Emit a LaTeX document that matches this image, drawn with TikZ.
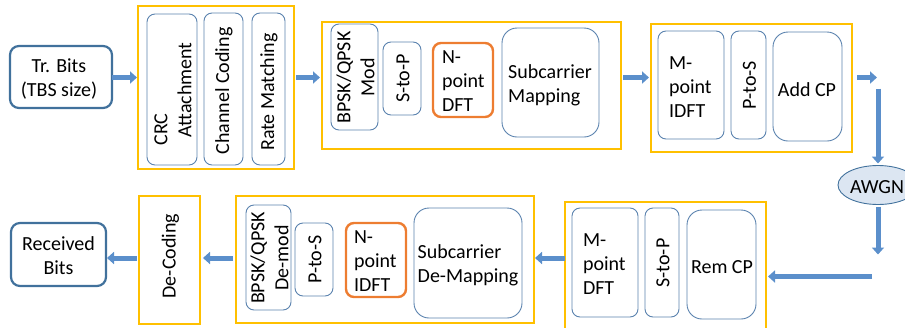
\documentclass[tikz,border=0pt]{standalone}
\usepackage{fontspec}
\setmainfont{Carlito}
\usetikzlibrary{arrows.meta,calc,shapes.geometric}
\definecolor{ybox}{HTML}{FFC000}
\definecolor{obox}{HTML}{ED7D31}
\definecolor{bbord}{HTML}{41719C}
\definecolor{ibord}{HTML}{5A82AE}
\definecolor{arrc}{HTML}{5B8FCB}
\definecolor{awgnf}{HTML}{DCE6F2}
\begin{document}
\begin{tikzpicture}[x=1pt,y=-1pt,
  every node/.style={inner sep=0pt,outer sep=0pt,font=\fontsize{20}{24}\selectfont},
  ybox/.style={draw=ybox,line width=2.6pt},
  ibox/.style={draw=ibord,line width=0.9pt,rounded corners=8pt},
  bigbox/.style={draw=ibord,line width=0.9pt,rounded corners=15pt},
  obox/.style={draw=obox,line width=2.4pt,rounded corners=8pt},
  endbox/.style={draw=bbord,line width=2.2pt,rounded corners=9pt},
  txt/.style={align=center},
  ltxt/.style={align=left},
  barrow/.style={draw=arrc,line width=5pt,-{Triangle[length=7pt 0 0,width=12pt 0 0]}}
]
\useasboundingbox (0,0) rectangle (905,327);
\clip (0,0) rectangle (905,327);
\coordinate (rowA) at (0,77.5);
\coordinate (rowB) at (0,258);

% ---------- top row ----------
\node[endbox,minimum width=102pt,minimum height=62pt] (tb) at (61,77) {};
\node[txt] (tbT) at (59,79) {Tr. Bits\\(TBS size)};

\node[ybox,minimum width=156pt,minimum height=163pt] (box1) at (216,87.5) {};
\node[ibox,minimum width=50pt,minimum height=151pt] (crc) at (172,89.5) {};
\node[ltxt,rotate=90] (crcT) at (173,94) {CRC\\\hspace*{0.4em}Attachment};
\node[ibox,minimum width=39pt,minimum height=152pt] (cc) at (223.5,89) {};
\node[txt,rotate=90] (ccT) at (224,91) {Channel Coding};
\node[ibox,minimum width=33pt,minimum height=152pt] (rm) at (268.5,89) {};
\node[txt,rotate=90] (rmT) at (269,92) {Rate Matching};

\node[ybox,minimum width=299pt,minimum height=127pt] (box2) at (471.5,85.5) {};
\node[ibox,minimum width=47pt,minimum height=106pt] (mod) at (354.5,77) {};
\node[txt,rotate=90] (modT) at (355.5,77.5) {BPSK/QPSK\\Mod};
\node[ibox,minimum width=38pt,minimum height=73pt] (s2p) at (402,78.5) {};
\node[txt,rotate=90] (s2pT) at (403,78.5) {S-to-P};
\node[obox,minimum width=60pt,minimum height=74pt] (dft) at (463,80) {};
\node[ltxt,anchor=west] (dftT) at (442,81) {N-\\point\\DFT};
\node[bigbox,minimum width=97pt,minimum height=109pt] (scm) at (550.5,82.5) {};
\node[ltxt] (scmT) at (550,85) {Subcarrier\\Mapping};

\node[ybox,minimum width=201pt,minimum height=128pt] (box3) at (751.5,88) {};
\node[ibox,minimum width=66pt,minimum height=108pt] (idft) at (691,85) {};
\node[ltxt,anchor=west] (idftT) at (669,87) {M-\\point\\IDFT};
\node[ibox,minimum width=35pt,minimum height=108pt] (p2s) at (748.5,85) {};
\node[txt,rotate=90] (p2sT) at (749.5,85) {P-to-S};
\node[bigbox,minimum width=69pt,minimum height=109pt] (acp) at (807.5,86.5) {};
\node[txt] (acpT) at (807,90) {Add CP};

\node[ellipse,draw=bbord,line width=0.9pt,fill=awgnf,minimum width=80pt,minimum height=39pt] (awgn) at (878,185) {};
\node[txt] (awgnT) at (877,187) {AWGN};

% ---------- bottom row ----------
\node[ybox,minimum width=201pt,minimum height=130pt] (box4) at (665.5,267) {};
\node[ibox,minimum width=66pt,minimum height=109pt] (mdft) at (605,262.5) {};
\node[ltxt,anchor=west] (mdftT) at (583,264) {M-\\point\\DFT};
\node[ibox,minimum width=34pt,minimum height=109pt] (s2p2) at (662,262.5) {};
\node[txt,rotate=90] (s2p2T) at (663,263) {S-to-P};
\node[bigbox,minimum width=69pt,minimum height=109pt] (rcp) at (721.5,264.5) {};
\node[txt] (rcpT) at (722,267) {Rem CP};

\node[ybox,minimum width=298pt,minimum height=127pt] (box5) at (385,259.5) {};
\node[ibox,minimum width=45pt,minimum height=105pt] (demod) at (268.5,257.5) {};
\node[txt,rotate=90] (demodT) at (269.5,258) {BPSK/QPSK\\De-mod};
\node[ibox,minimum width=38pt,minimum height=73pt] (p2s2) at (314,259.5) {};
\node[txt,rotate=90] (p2s2T) at (315,259.5) {P-to-S};
\node[obox,minimum width=60pt,minimum height=74pt] (ndft2) at (376,260) {};
\node[ltxt,anchor=west] (ndft2T) at (354,261) {N-\\point\\IDFT};
\node[bigbox,minimum width=108pt,minimum height=110pt] (sdm) at (468,263) {};
\node[ltxt] (sdmT) at (468,265) {Subcarrier\\De-Mapping};

\node[ybox,minimum width=61pt,minimum height=128pt] (dec) at (169.5,260) {};
\node[txt,rotate=90] (decT) at (170.5,256) {De-Coding};

\node[endbox,minimum width=95pt,minimum height=63pt] (rb) at (58.5,254.5) {};
\node[txt] (rbT) at (58.5,256) {Received\\Bits};

% ---------- arrows ----------
\coordinate (outA) at ($(box3.east |- rowA)+(25,0)$);
\coordinate (hStart) at ($(awgn.south)+(-6,72)$);
\draw[barrow] (tb.east |- rowA) -- ($(box1.west |- rowA)+(-1,0)$);
\draw[barrow] ($(box1.east |- rowA)+(2,0)$) -- ($(box2.west |- rowA)+(-2,0)$);
\draw[barrow] ($(box2.east |- rowA)+(2,0)$) -- ($(box3.west |- rowA)+(-2,0)$);
\draw[barrow] ($(box3.east |- rowA)+(5,0)$) -- (outA);
\draw[barrow] ($(awgn.north)+(0,-77)$) -- ($(awgn.north)+(0,-2)$);
\draw[barrow] ($(awgn.south)+(0,2)$) -- ($(awgn.south)+(0,50)$);
\draw[barrow] (hStart) -- ($(box4.east |- hStart)+(2,0)$);
\draw[barrow] (box4.west |- rowB) -- ($(box5.east |- rowB)+(1,0)$);
\draw[barrow] ($(box5.west |- rowB)+(-3,0)$) -- ($(dec.east |- rowB)+(3,0)$);
\draw[barrow] ($(dec.west |- rowB)+(-2,0)$) -- ($(rb.east |- rowB)+(1,0)$);
\end{tikzpicture}
\end{document}
